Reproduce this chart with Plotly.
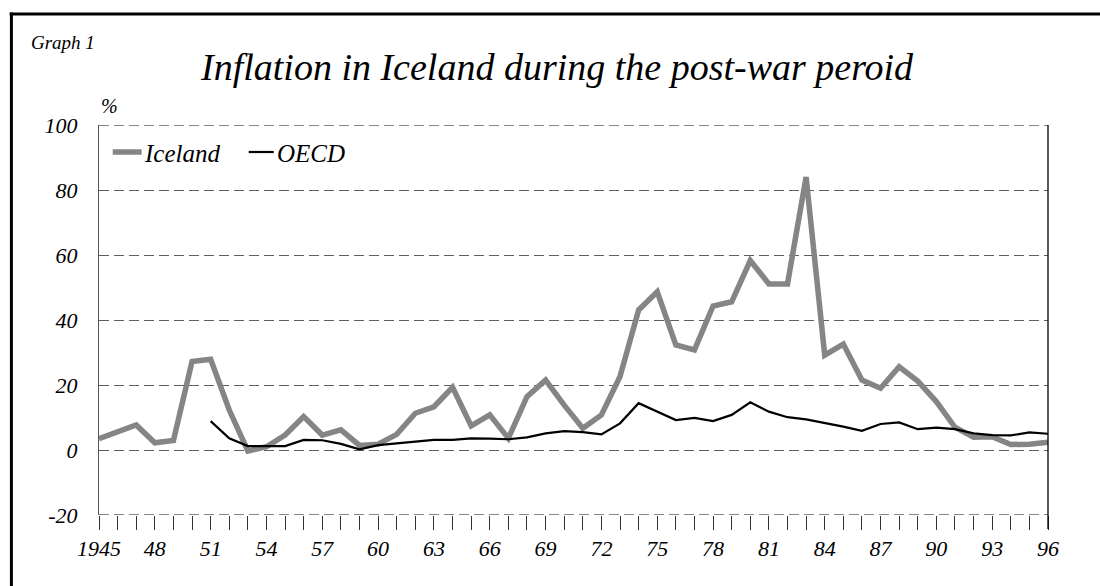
import plotly.graph_objects as go

years = list(range(1945, 1997))
iceland = [3.5, 5.6, 7.7, 2.2, 2.9, 27.2, 27.9, 12.3, -0.3, 1.0,
           4.6, 10.3, 4.6, 6.2, 1.4, 1.8, 4.8, 11.3, 13.3, 19.3,
           7.4, 10.8, 3.6, 16.4, 21.5, 13.8, 6.7, 10.8, 22.6, 43.1,
           48.7, 32.3, 30.8, 44.3, 45.6, 58.3, 51.1, 51.1, 84.0, 29.2,
           32.6, 21.5, 19.0, 25.6, 21.2, 14.9, 7.0, 3.9, 4.1, 1.7,
           1.8, 2.4]
oecd_years = list(range(1951, 1997))
oecd = [8.9, 3.6, 1.2, 1.1, 1.2, 3.1, 3.0, 1.9, 0.2, 1.5,
        2.0, 2.5, 3.1, 3.1, 3.6, 3.5, 3.3, 3.9, 5.1, 5.8,
        5.5, 4.8, 8.2, 14.4, 11.8, 9.2, 9.9, 8.9, 10.8, 14.7,
        11.8, 10.1, 9.4, 8.4, 7.2, 5.9, 8.0, 8.5, 6.4, 6.9,
        6.4, 5.1, 4.6, 4.5, 5.4, 5.0]
label_years = list(range(1945, 1997, 3))
label_text = ["1945"] + [str(y)[2:] for y in label_years[1:]]
y_ticks = [-20, 0, 20, 40, 60, 80, 100]
y_text = ["-20", "0", "20", "40", "60", "80", "100"]

FONT = "Liberation Serif"
L, R, T, B = 99.3, 1048.3, 125, 515
GRID = "#5f5f5f"


def px(x):
    return (x - L) / (R - L)


def py(y):
    return (B - y) / (B - T)


fig = go.Figure()
fig.add_trace(go.Scatter(x=years, y=iceland, mode="lines", name="Iceland",
                         line=dict(color="#858585", width=5.5), showlegend=False))
fig.add_trace(go.Scatter(x=oecd_years, y=oecd, mode="lines", name="OECD",
                         line=dict(color="#000000", width=2.2), showlegend=False))

shapes = [
    # dashed gridlines at the range edges
    dict(type="line", xref="paper", yref="y", x0=0, x1=1, y0=100, y1=100,
         line=dict(color=GRID, width=1.3, dash="10px,5px"), layer="below"),
    dict(type="line", xref="paper", yref="y", x0=0, x1=1, y0=-20, y1=-20,
         line=dict(color=GRID, width=1.3, dash="10px,5px"), layer="below"),
    # outer frame
    dict(type="line", xref="paper", yref="paper", x0=px(10), x1=px(1105), y0=py(14), y1=py(14),
         line=dict(color="black", width=3)),
    dict(type="line", xref="paper", yref="paper", x0=px(11.7), x1=px(11.7), y0=py(12.5), y1=py(600),
         line=dict(color="black", width=3)),
    # right border of plot area
    dict(type="line", xref="paper", yref="paper", x0=1, x1=1, y0=py(T), y1=py(529),
         line=dict(color="black", width=1.3)),
    # legend samples
    dict(type="line", xref="paper", yref="paper", x0=px(113), x1=px(142), y0=py(152), y1=py(152),
         line=dict(color="#858585", width=5.5)),
    dict(type="line", xref="paper", yref="paper", x0=px(249), x1=px(274), y0=py(152), y1=py(152),
         line=dict(color="black", width=2.2)),
]

annotations = [
    dict(text="Inflation in Iceland during the post-war peroid", xref="paper", yref="paper",
         x=px(557), y=py(67), xanchor="center", yanchor="middle", showarrow=False,
         font=dict(family=FONT, size=38, style="italic", color="black")),
    dict(text="Graph 1", xref="paper", yref="paper", x=px(29), y=py(42), xanchor="left",
         yanchor="middle", showarrow=False,
         font=dict(family=FONT, size=19, style="italic", color="black")),
    dict(text="%", xref="paper", yref="paper", x=px(99), y=py(106), xanchor="left",
         yanchor="middle", showarrow=False,
         font=dict(family=FONT, size=20, style="italic", color="black")),
    dict(text="Iceland", xref="paper", yref="paper", x=px(142), y=py(153), xanchor="left",
         yanchor="middle", showarrow=False,
         font=dict(family=FONT, size=25, style="italic", color="black")),
    dict(text="OECD", xref="paper", yref="paper", x=px(275), y=py(153), xanchor="left",
         yanchor="middle", showarrow=False,
         font=dict(family=FONT, size=25, style="italic", color="black")),
]

fig.update_layout(
    width=1100, height=586,
    margin=dict(l=99.3, r=1100 - 1048.3, t=125, b=71),
    paper_bgcolor="white", plot_bgcolor="white",
    showlegend=False,
    shapes=shapes, annotations=annotations,
    font=dict(family=FONT, style="italic", color="black"),
    xaxis=dict(range=[1945, 1996], tickvals=label_years, ticktext=label_text,
               ticks="outside", ticklen=14, tickcolor="#333333", tickwidth=1,
               minor=dict(dtick=1, tick0=1945, ticks="outside", ticklen=14,
                          tickcolor="#333333", tickwidth=1, showgrid=False),
               showgrid=False, zeroline=False, showline=False,
               tickfont=dict(family=FONT, size=22, style="italic", color="black")),
    yaxis=dict(range=[-20, 100], tickvals=y_ticks, ticktext=y_text, ticks="",
               showgrid=True, gridcolor=GRID, gridwidth=1.3, griddash="10px,5px",
               zeroline=False, showline=True, linecolor="#555555", linewidth=1.2,
               ticklabelstandoff=16,
               tickfont=dict(family=FONT, size=22, style="italic", color="black")),
)

fig.write_html("out.html", config={"displayModeBar": False},
               post_script="document.body.style.margin='0';")
